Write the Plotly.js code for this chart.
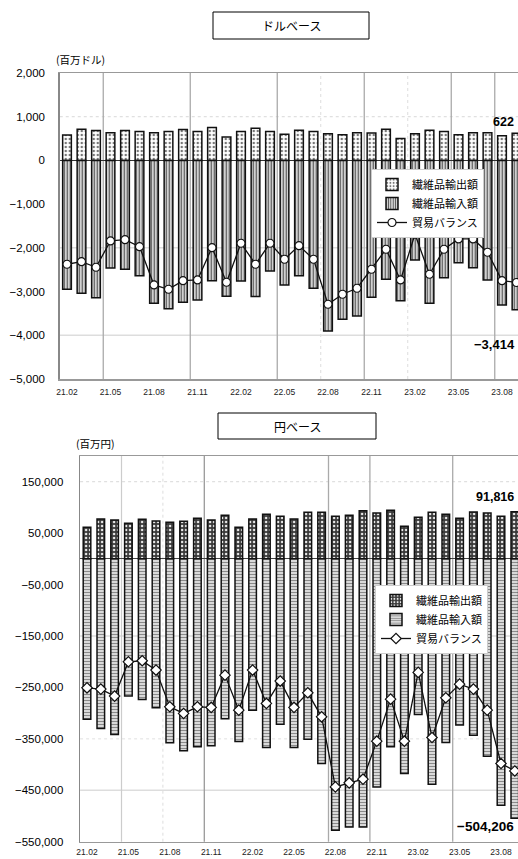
<!DOCTYPE html>
<html>
<head>
<meta charset="utf-8">
<script src="https://cdn.plot.ly/plotly-3.0.1.min.js"></script>
<style>
html,body{margin:0;padding:0;overflow:hidden;background:#fff;width:518px;height:859px;}
#chart{width:540px;height:859px;}
</style>
</head>
<body>
<div id="chart"></div>
<script>
const months = ['21.02','21.03','21.04','21.05','21.06','21.07','21.08','21.09','21.10','21.11','21.12','22.01','22.02','22.03','22.04','22.05','22.06','22.07','22.08','22.09','22.10','22.11','22.12','23.01','23.02','23.03','23.04','23.05','23.06','23.07','23.08','23.09'];
const tickMonths = ['21.02','21.05','21.08','21.11','22.02','22.05','22.08','22.11','23.02','23.05','23.08'];

// ドルベース (百万ドル)
const usdExport = [583,713,682,636,682,659,636,659,705,659,751,538,659,736,659,599,690,659,613,590,636,630,713,499,613,690,659,590,636,636,567,622];
const usdImport = [-2947,-3038,-3139,-2460,-2489,-2636,-3267,-3391,-3244,-3192,-2750,-3107,-2757,-3115,-2528,-2849,-2636,-2924,-3901,-3633,-3558,-3130,-2718,-3208,-2277,-3267,-2682,-2338,-2453,-2734,-3306,-3414];
const usdBalance = [-2375,-2315,-2444,-1842,-1812,-1972,-2849,-2947,-2750,-2734,-1995,-2787,-1895,-2375,-1895,-2261,-1949,-2261,-3290,-3061,-2924,-2489,-2032,-2734,-1689,-2604,-2032,-1796,-1796,-2100,-2750,-2792];

// 円ベース (百万円)
const jpyExport = [61300,77400,75500,69000,76800,73500,71000,72900,78800,75500,84600,61300,77400,86600,82700,77400,90500,90500,82700,84600,93600,89100,94300,63200,80700,90500,86600,78800,91000,89100,82700,91816];
const jpyImport = [-311700,-329800,-341500,-266900,-273400,-289700,-357800,-373300,-365500,-363600,-311100,-355100,-294200,-366700,-321400,-366700,-350600,-397900,-527600,-521200,-521200,-443400,-365500,-417300,-302500,-438100,-357000,-323300,-342800,-383700,-479000,-504206];
const jpyBalance = [-250800,-253300,-266900,-200200,-198200,-216300,-287700,-300600,-287700,-288900,-226100,-294200,-216300,-281100,-237700,-288900,-260500,-307200,-443400,-435600,-428400,-354500,-272800,-354500,-220800,-347300,-270200,-243600,-253300,-294200,-397900,-412390];

const seriesNames = ['繊維品輸出額','繊維品輸入額','貿易バランス'];
const usdTicks = [2000,1000,0,-1000,-2000,-3000,-4000,-5000];
const jpyTicks = [150000,50000,-50000,-150000,-250000,-350000,-450000,-550000];

const W = 540, H = 859;
const px = x => x / W;
const py = y => 1 - y / H;
const FONT = 'Liberation Sans, Arial, Noto Sans CJK JP, sans-serif';
const JFONT = 'Noto Sans CJK JP, sans-serif';

const traces = [
  {type:'bar', x:months, y:usdExport, name:seriesNames[0], xaxis:'x', yaxis:'y', width:0.6, legend:'legend',
   marker:{color:'#ffffff', line:{color:'#111', width:1.5},
           pattern:{shape:'.', bgcolor:'#ffffff', fgcolor:'#777', size:4, solidity:0.3}}},
  {type:'bar', x:months, y:usdImport, name:seriesNames[1], xaxis:'x', yaxis:'y', width:0.6, legend:'legend',
   marker:{color:'#bbbbbb', line:{color:'#111', width:1.5},
           pattern:{shape:'|', bgcolor:'#d0d0d0', fgcolor:'#505050', size:3, solidity:0.35}}},
  {type:'scatter', mode:'lines+markers', x:months, y:usdBalance, name:seriesNames[2], xaxis:'x', yaxis:'y', legend:'legend',
   line:{color:'#111', width:1.3}, marker:{symbol:'circle', size:8, color:'#fff', line:{color:'#111', width:1.2}}},

  {type:'bar', x:months, y:jpyExport, name:seriesNames[0], xaxis:'x2', yaxis:'y2', width:0.55, legend:'legend2',
   marker:{color:'#333', line:{color:'#111', width:1.5},
           pattern:{shape:'.', bgcolor:'#3a3a3a', fgcolor:'#e8e8e8', size:4, solidity:0.3}}},
  {type:'bar', x:months, y:jpyImport, name:seriesNames[1], xaxis:'x2', yaxis:'y2', width:0.55, legend:'legend2',
   marker:{color:'#ddd', line:{color:'#111', width:1.5},
           pattern:{shape:'-', bgcolor:'#f4f4f4', fgcolor:'#8a8a8a', size:3, solidity:0.5}}},
  {type:'scatter', mode:'lines+markers', x:months, y:jpyBalance, name:seriesNames[2], xaxis:'x2', yaxis:'y2', legend:'legend2',
   line:{color:'#111', width:1.3}, marker:{symbol:'diamond', size:8, color:'#fff', line:{color:'#111', width:1.2}}}
];

function vline(xr, yr, x, color, width, dash){
  return {type:'line', xref:xr, yref:yr+' domain', x0:x, x1:x, y0:0, y1:1, layer:'below', line:{color:color, width:width, dash:dash||'solid'}};
}
function hline(xr, yr, y, color, width, dash){
  return {type:'line', xref:xr+' domain', yref:yr, x0:0, x1:1, y0:y, y1:y, layer:'below', line:{color:color, width:width, dash:dash||'solid'}};
}

const shapes = [
  // title boxes
  {type:'rect', xref:'paper', yref:'paper', x0:px(213), x1:px(369), y0:py(39), y1:py(12), line:{color:'#000', width:1}, fillcolor:'#fff'},
  {type:'rect', xref:'paper', yref:'paper', x0:px(218), x1:px(376), y0:py(439), y1:py(413), line:{color:'#000', width:1}, fillcolor:'#fff'},
  // top grid
  hline('x','y',1000,'#d8d8d8',1,'dot'),
  hline('x','y',-2000,'#dddddd',1.5),
  hline('x','y',-4000,'#dddddd',1.5),
  vline('x','y',17.5,'#dddddd',1,'dot'),
  vline('x','y',23.5,'#dddddd',1,'dot'),
  vline('x','y',2.5,'#aaaaaa',1.3),
  vline('x','y',8.5,'#aaaaaa',1.3),
  vline('x','y',14.5,'#aaaaaa',1.3),
  vline('x','y',20.5,'#aaaaaa',1.3),
  vline('x','y',26.5,'#aaaaaa',1.3),
  vline('x','y',29.5,'#aaaaaa',1.3),
  // bottom grid
  hline('x2','y2',150000,'#d8d8d8',1,'dot'),
  hline('x2','y2',-350000,'#e0e0e0',1,'dot'),
  hline('x2','y2',-150000,'#dddddd',1.5),
  hline('x2','y2',-450000,'#dddddd',1.5),
  vline('x2','y2',5.5,'#dddddd',1,'dot'),
  vline('x2','y2',2.5,'#cccccc',1.2),
  vline('x2','y2',8.5,'#999999',1.3),
  vline('x2','y2',17.5,'#aaaaaa',1.3),
  vline('x2','y2',20.5,'#aaaaaa',1.3),
  vline('x2','y2',26.5,'#aaaaaa',1.3)
];

const annotations = [
  {xref:'paper', yref:'paper', x:px(291), y:py(26), text:'ドルベース', showarrow:false, xanchor:'center', yanchor:'middle', font:{family:JFONT, size:12, color:'#000'}},
  {xref:'paper', yref:'paper', x:px(297), y:py(426), text:'円ベース', showarrow:false, xanchor:'center', yanchor:'middle', font:{family:JFONT, size:12, color:'#000'}},
  {xref:'paper', yref:'paper', x:px(80), y:py(59), text:'(百万ドル)', showarrow:false, xanchor:'center', yanchor:'middle', font:{family:JFONT, size:10.5, color:'#000'}},
  {xref:'paper', yref:'paper', x:px(95), y:py(443), text:'(百万円)', showarrow:false, xanchor:'center', yanchor:'middle', font:{family:JFONT, size:10.5, color:'#000'}},
  {xref:'paper', yref:'paper', x:px(516), y:py(122), text:String(usdExport[usdExport.length-1]), showarrow:false, xanchor:'right', yanchor:'middle', font:{family:FONT, size:12.5, color:'#000', weight:'bold'}},
  {xref:'paper', yref:'paper', x:px(472), y:py(344), text:'−'+Math.abs(usdImport[usdImport.length-1]).toLocaleString('en-US'), showarrow:false, xanchor:'left', yanchor:'middle', font:{family:FONT, size:13, color:'#000', weight:'bold'}},
  {xref:'paper', yref:'paper', x:px(516), y:py(497), text:jpyExport[jpyExport.length-1].toLocaleString('en-US'), showarrow:false, xanchor:'right', yanchor:'middle', font:{family:FONT, size:12.5, color:'#000', weight:'bold'}},
  {xref:'paper', yref:'paper', x:px(516), y:py(826), text:'−'+Math.abs(jpyImport[jpyImport.length-1]).toLocaleString('en-US'), showarrow:false, xanchor:'right', yanchor:'middle', font:{family:FONT, size:13.5, color:'#000', weight:'bold'}}
];

const xCommon = {
  type:'category', range:[-0.5, 32.5], tickmode:'array', tickvals:tickMonths, ticktext:tickMonths,
  showgrid:false, zeroline:false, showline:true, mirror:true, linecolor:'#999', linewidth:1.5,
  ticks:'', tickfont:{family:FONT, size:8.5, color:'#222'}, fixedrange:true
};

const layout = {
  width:W, height:H, margin:{l:0, r:0, t:0, b:0},
  paper_bgcolor:'#fff', plot_bgcolor:'#fff',
  font:{family:FONT, color:'#000'},
  barmode:'relative', bargap:0.4,
  showlegend:true,
  xaxis:Object.assign({}, xCommon, {domain:[px(59.75), px(538.25)], anchor:'y', ticklabelstandoff:4}),
  yaxis:{domain:[py(379), py(73)], anchor:'x', range:[-5000, 2000], tickmode:'array', tickvals:usdTicks,
         tickformat:',d', showgrid:false, zeroline:true, zerolinecolor:'#333', zerolinewidth:1.5,
         showline:true, linecolor:'#888', linewidth:1.5, ticks:'', ticklabelstandoff:11,
         tickfont:{family:FONT, size:11.5, color:'#000'}},
  xaxis2:Object.assign({}, xCommon, {domain:[px(80.1), px(535.5)], anchor:'y2', ticklabelstandoff:2}),
  yaxis2:{domain:[py(841.7), py(456)], anchor:'x2', range:[-550000, 200000], tickmode:'array', tickvals:jpyTicks,
         tickformat:',d', showgrid:false, zeroline:true, zerolinecolor:'#444', zerolinewidth:1.2,
         showline:true, linecolor:'#888', linewidth:1.5, ticks:'', ticklabelstandoff:13,
         tickfont:{family:FONT, size:11.5, color:'#000'}},
  legend:{x:px(371), y:py(169), xanchor:'left', yanchor:'top', bgcolor:'#fff', bordercolor:'#ccc', borderwidth:1,
          font:{family:JFONT, size:11, color:'#000'}, traceorder:'normal', itemwidth:30, tracegroupgap:0},
  legend2:{x:px(375), y:py(585), xanchor:'left', yanchor:'top', bgcolor:'#fff', bordercolor:'#ccc', borderwidth:1,
          font:{family:JFONT, size:11, color:'#000'}, traceorder:'normal', itemwidth:30, tracegroupgap:0},
  shapes:shapes,
  annotations:annotations
};

Plotly.newPlot('chart', traces, layout, {displayModeBar:false, staticPlot:true});
</script>
</body>
</html>
